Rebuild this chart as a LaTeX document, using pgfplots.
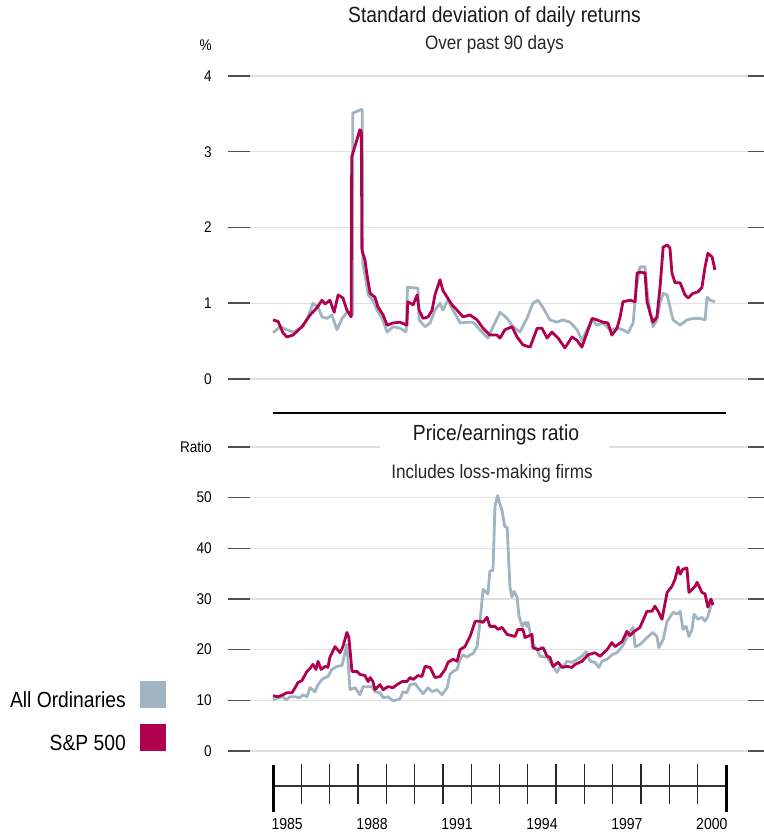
\documentclass[border=0pt]{standalone}
\usepackage{fontspec}
\setmainfont{Liberation Sans}[FakeStretch=0.88]
\usepackage{pgfplots}
\pgfplotsset{compat=1.18}
\definecolor{ords}{RGB}{160,180,194}
\definecolor{spx}{RGB}{176,0,78}
\definecolor{gridc}{RGB}{224,224,224}
\definecolor{stub}{RGB}{80,80,80}
\pgfplotsset{panel/.style={
  scale only axis, width=542bp, xmin=1983.4106, xmax=2002.554,
  axis line style={draw=none}, xtick=\empty,
  ymajorgrids, major grid style={draw=gridc, line width=1.4bp},
  tick align=inside, major tick length=22bp,
  ytick style={draw=stub, line width=1.5bp},
  yticklabel style={font=\fontsize{15.5}{15.5}\selectfont, anchor=east, inner sep=0pt, xshift=-16bp},
  /pgf/number format/assume math mode=true,
  every axis plot/.append style={line width=2.8bp, line join=round, mark=none},
}}
\begin{document}
\begin{tikzpicture}
\useasboundingbox (0bp,0bp) rectangle (764bp,833bp);
% ---------- top panel ----------
\begin{axis}[panel, at={(228bp,454bp)}, anchor=south west, height=303bp,
  ymin=0, ymax=4, ytick={0,1,2,3,4}]
\addplot[ords] coordinates {
(1985.00,0.61)(1985.25,0.69)(1985.49,0.65)(1985.71,0.62)(1986.06,0.69)(1986.24,0.82)
(1986.41,1.00)(1986.59,0.95)(1986.73,0.82)(1986.91,0.80)(1987.08,0.845)(1987.26,0.65)
(1987.44,0.80)(1987.61,0.88)(1987.76,0.845)(1987.81,0.85)(1987.82,3.51)(1988.13,3.56)
(1988.15,3.55)(1988.17,1.53)(1988.28,1.31)(1988.36,1.11)(1988.53,1.04)(1988.67,0.91)
(1988.85,0.80)(1989.03,0.62)(1989.24,0.69)(1989.49,0.67)(1989.70,0.62)(1989.75,1.21)
(1990.12,1.20)(1990.16,0.78)(1990.37,0.69)(1990.55,0.74)(1990.72,0.91)(1990.90,1.00)
(1991.00,0.91)(1991.18,1.04)(1991.36,0.91)(1991.61,0.74)(1991.85,0.75)(1992.06,0.75)
(1992.31,0.65)(1992.59,0.54)(1992.77,0.69)(1993.02,0.88)(1993.27,0.80)(1993.48,0.69)
(1993.72,0.62)(1993.97,0.80)(1994.18,1.00)(1994.36,1.04)(1994.54,0.94)(1994.78,0.78)
(1995.03,0.75)(1995.24,0.78)(1995.49,0.75)(1995.74,0.65)(1995.91,0.51)(1996.09,0.65)
(1996.27,0.78)(1996.44,0.71)(1996.66,0.74)(1996.90,0.65)(1997.15,0.67)(1997.36,0.65)
(1997.54,0.61)(1997.72,0.74)(1997.82,1.17)(1997.96,1.48)(1998.14,1.48)(1998.21,1.17)
(1998.32,0.87)(1998.42,0.69)(1998.56,0.78)(1998.67,1.00)(1998.78,1.13)(1998.92,1.11)
(1999.02,0.95)(1999.13,0.78)(1999.38,0.71)(1999.62,0.78)(1999.83,0.80)(2000.08,0.80)
(2000.26,0.78)(2000.33,1.08)(2000.44,1.04)(2000.61,1.02)};
\addplot[spx] coordinates {
(1985.00,0.78)(1985.18,0.76)(1985.35,0.61)(1985.49,0.555)(1985.71,0.58)(1986.02,0.69)
(1986.31,0.845)(1986.55,0.94)(1986.73,1.04)(1986.84,0.99)(1987.01,1.04)(1987.16,0.88)
(1987.30,1.11)(1987.47,1.07)(1987.61,0.91)(1987.76,0.82)(1987.78,2.93)(1988.07,3.29)
(1988.12,3.27)(1988.14,1.70)(1988.25,1.57)(1988.31,1.40)(1988.43,1.13)(1988.60,1.08)
(1988.71,0.95)(1988.89,0.845)(1989.03,0.71)(1989.24,0.74)(1989.49,0.75)(1989.73,0.71)
(1989.76,1.02)(1989.95,0.98)(1990.09,1.11)(1990.16,0.91)(1990.30,0.80)(1990.48,0.82)
(1990.62,0.91)(1990.72,1.11)(1990.90,1.31)(1991.00,1.17)(1991.15,1.08)(1991.32,0.98)
(1991.50,0.91)(1991.71,0.82)(1991.96,0.845)(1992.21,0.78)(1992.42,0.67)(1992.66,0.58)
(1992.91,0.58)(1993.02,0.54)(1993.19,0.65)(1993.44,0.69)(1993.62,0.555)(1993.83,0.45)
(1994.08,0.42)(1994.33,0.67)(1994.50,0.67)(1994.68,0.54)(1994.85,0.62)(1995.07,0.54)
(1995.31,0.41)(1995.56,0.555)(1995.74,0.51)(1995.91,0.42)(1996.09,0.61)(1996.27,0.80)
(1996.44,0.78)(1996.66,0.75)(1996.83,0.74)(1996.97,0.58)(1997.15,0.67)(1997.26,0.82)
(1997.36,1.02)(1997.61,1.04)(1997.79,1.02)(1997.86,1.40)(1997.96,1.41)(1998.14,1.40)
(1998.21,1.02)(1998.32,0.87)(1998.42,0.75)(1998.56,0.82)(1998.67,1.21)(1998.78,1.74)
(1998.92,1.77)(1999.02,1.73)(1999.09,1.40)(1999.20,1.27)(1999.38,1.27)(1999.55,1.11)
(1999.66,1.07)(1999.83,1.13)(2000.01,1.15)(2000.15,1.21)(2000.26,1.48)(2000.36,1.66)
(2000.51,1.61)(2000.61,1.44)};
\end{axis}
% ---------- bottom panel ----------
\begin{axis}[panel, at={(228bp,82bp)}, anchor=south west, height=304bp,
  ymin=0, ymax=60, ytick={0,10,20,30,40,50,60},
  yticklabels={0,10,20,30,40,50,Ratio}]
\addplot[ords] coordinates {
(1985.00,10.1)(1985.18,10.5)(1985.35,10.7)(1985.46,10.1)(1985.60,10.7)(1985.78,10.7)
(1985.95,10.5)(1986.06,11.1)(1986.20,10.7)(1986.31,12.5)(1986.48,11.7)(1986.59,13.1)
(1986.73,14.1)(1986.84,14.5)(1986.94,14.7)(1987.08,16.1)(1987.26,16.7)(1987.44,16.9)
(1987.54,19.4)(1987.61,21.0)(1987.72,12.1)(1987.90,12.5)(1988.07,11.1)(1988.18,12.7)
(1988.36,12.7)(1988.50,12.7)(1988.60,11.7)(1988.78,11.5)(1988.89,10.5)(1989.06,10.7)
(1989.24,9.9)(1989.49,10.3)(1989.59,11.7)(1989.73,11.5)(1989.84,13.1)(1990.02,13.3)
(1990.12,12.5)(1990.30,11.3)(1990.48,12.5)(1990.62,11.7)(1990.79,12.1)(1990.97,11.1)
(1991.15,12.5)(1991.25,15.1)(1991.36,15.7)(1991.50,16.1)(1991.61,18.1)(1991.71,19.0)
(1991.85,18.5)(1991.96,19.0)(1992.06,19.2)(1992.21,20.6)(1992.31,25.4)(1992.42,31.9)
(1992.59,31.0)(1992.66,35.5)(1992.77,35.7)(1992.84,48.2)(1992.93,50.4)(1993.09,47.4)
(1993.19,44.2)(1993.27,44.2)(1993.37,32.3)(1993.44,30.4)(1993.51,31.5)(1993.62,30.4)
(1993.69,26.6)(1993.80,24.6)(1993.90,25.4)(1993.97,24.6)(1994.01,25.4)(1994.15,21.4)
(1994.33,20.0)(1994.43,18.7)(1994.68,18.5)(1994.85,17.1)(1995.03,15.5)(1995.14,16.7)
(1995.24,16.5)(1995.38,17.7)(1995.56,17.5)(1995.74,18.1)(1995.91,18.7)(1996.06,19.6)
(1996.20,17.7)(1996.37,17.5)(1996.51,16.5)(1996.62,17.7)(1996.80,18.1)(1996.97,19.0)
(1997.15,19.4)(1997.33,20.6)(1997.47,22.0)(1997.61,23.6)(1997.72,24.4)(1997.79,20.6)
(1997.96,21.0)(1998.21,22.4)(1998.42,23.4)(1998.56,22.6)(1998.63,20.4)(1998.78,22.0)
(1998.92,25.6)(1999.02,26.4)(1999.13,27.4)(1999.27,27.0)(1999.38,27.6)(1999.48,24.0)
(1999.59,24.6)(1999.69,22.6)(1999.80,24.0)(1999.87,27.0)(2000.01,26.0)(2000.15,26.4)
(2000.26,25.6)(2000.36,26.6)(2000.51,29.4)};
\addplot[spx] coordinates {
(1985.00,10.9)(1985.18,10.7)(1985.35,11.1)(1985.49,11.5)(1985.67,11.5)(1985.78,12.5)
(1985.88,13.5)(1986.02,13.9)(1986.20,15.7)(1986.31,16.3)(1986.41,17.1)(1986.52,16.1)
(1986.59,17.7)(1986.70,16.1)(1986.84,16.7)(1986.94,16.5)(1987.01,18.5)(1987.19,20.6)
(1987.37,19.4)(1987.47,20.6)(1987.61,23.4)(1987.68,22.4)(1987.79,15.7)(1987.97,15.7)
(1988.07,15.1)(1988.25,14.9)(1988.36,13.7)(1988.43,14.5)(1988.53,13.7)(1988.60,12.1)
(1988.78,13.1)(1988.89,12.1)(1989.06,12.7)(1989.24,12.5)(1989.38,13.1)(1989.56,13.7)
(1989.73,13.7)(1989.84,14.5)(1989.95,14.1)(1990.12,14.9)(1990.26,14.7)(1990.37,16.7)
(1990.55,16.5)(1990.72,14.5)(1990.90,14.7)(1991.08,16.1)(1991.18,17.5)(1991.36,18.1)
(1991.50,17.7)(1991.61,20.0)(1991.78,20.6)(1991.96,22.6)(1992.14,25.6)(1992.31,25.6)
(1992.42,25.4)(1992.56,26.4)(1992.66,24.6)(1992.84,24.6)(1992.95,24.0)(1993.09,24.4)
(1993.27,23.0)(1993.55,22.6)(1993.65,24.0)(1993.83,24.0)(1993.90,22.4)(1994.15,23.0)
(1994.18,20.4)(1994.36,20.0)(1994.54,20.4)(1994.68,18.7)(1994.78,18.5)(1994.89,16.7)
(1995.07,17.5)(1995.21,16.5)(1995.38,16.7)(1995.56,16.5)(1995.67,17.1)(1995.91,17.7)
(1996.13,19.0)(1996.37,19.4)(1996.55,18.7)(1996.80,20.0)(1996.97,21.4)(1997.08,20.6)
(1997.33,21.6)(1997.50,23.6)(1997.61,22.8)(1997.72,23.4)(1997.96,24.4)(1998.21,27.6)
(1998.39,27.6)(1998.49,28.6)(1998.60,27.6)(1998.74,26.0)(1998.92,31.3)(1999.09,32.5)
(1999.20,33.9)(1999.31,36.3)(1999.38,34.9)(1999.48,35.9)(1999.62,36.1)(1999.69,31.3)
(1999.91,32.5)(1999.98,33.3)(2000.15,31.3)(2000.26,31.0)(2000.36,28.4)(2000.47,30.0)
(2000.54,28.8)};
\end{axis}
\begin{scope}[x=1bp,y=1bp]
% ---------- titles ----------
\fill[white] (380,383) rectangle (609,390);
\node[anchor=base, inner sep=0pt, font=\fontsize{22}{22}\selectfont, text=black!90] at (494.5,810) {Standard deviation of daily returns};
\node[anchor=base, inner sep=0pt, font=\fontsize{19.5}{19.5}\selectfont, text=black!85] at (494.5,783) {Over past 90 days};
\node[anchor=base east, inner sep=0pt, font=\fontsize{15.5}{15.5}\selectfont] at (212,782) {\%};
\draw[line width=2.6bp, black] (273,420) -- (726,420);
\node[anchor=base, inner sep=0pt, font=\fontsize{22}{22}\selectfont, text=black!90] at (496,392) {Price/earnings ratio};
\node[anchor=base, inner sep=0pt, font=\fontsize{19.5}{19.5}\selectfont, text=black!85] at (492,355) {Includes loss-making firms};
% ---------- legend ----------
\node[anchor=base east, inner sep=0pt, font=\fontsize{22}{22}\selectfont] at (126,125.3) {All Ordinaries};
\fill[ords] (140,125) rectangle (166,152);
\node[anchor=base east, inner sep=0pt, font=\fontsize{22}{22}\selectfont] at (126,82.3) {S\&P 500};
\fill[spx] (140,82) rectangle (166,109);
% ---------- timeline ----------
\draw[line width=1.3bp, black!80] (273,47) -- (726,47);
\foreach \k in {1,...,15} {\draw[line width=1.3bp, black!85] ({273+28.3125*\k},69) -- ({273+28.3125*\k},29);}
\draw[line width=3bp, black] (273,68) -- (273,21);
\draw[line width=3bp, black] (726,68) -- (726,21);
\foreach \k/\lab in {0/1985,3/1988,6/1991,9/1994,12/1997,15/2000} {
  \node[anchor=base, inner sep=0pt, font=\fontsize{16}{16}\selectfont] at ({273+28.3125*(\k+0.5)},4) {\lab};}
\end{scope}
\end{tikzpicture}
\end{document}
